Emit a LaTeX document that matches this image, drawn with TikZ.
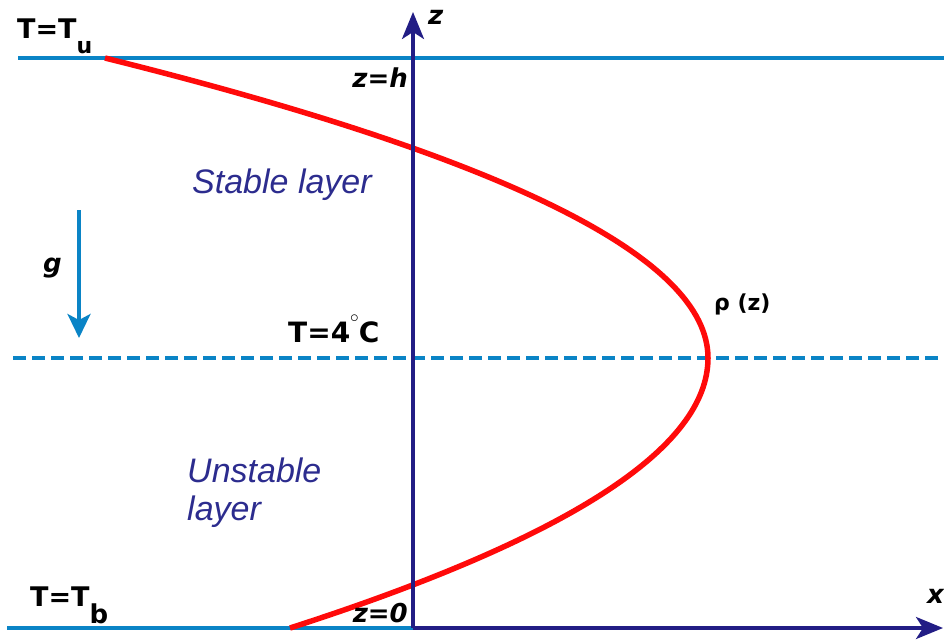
\documentclass[tikz,border=0pt]{standalone}
\usepackage{fontspec}
\setmainfont{DejaVu Sans}
\newfontfamily\layerfont{Liberation Sans}
\usetikzlibrary{arrows.meta}
\definecolor{waterblue}{HTML}{0A84C6}
\definecolor{navy}{HTML}{221D85}
\definecolor{profilered}{HTML}{FF0A0A}
\definecolor{layerink}{HTML}{2C2C8E}
\tikzset{
  level/.style={
    draw=waterblue,
    line width=3.5pt
  },
  axisarrow/.style={
    -{Stealth[length=27pt,width=22pt,inset=7pt]},
    draw=navy,
    line width=3.5pt
  },
  gravity/.style={
    -{Stealth[length=24pt,width=23pt,inset=6pt]},
    draw=waterblue,
    line width=3.5pt
  },
  profile/.style={
    draw=profilered,
    line width=5.5pt
  },
  tlabel/.style={
    inner sep=0pt,
    font=\bfseries\fontsize{27}{30}\selectfont
  },
  zlabel/.style={
    inner sep=0pt,
    font=\bfseries\itshape\fontsize{26}{28}\selectfont
  },
  layerlabel/.style={
    inner sep=0pt,
    text=layerink,
    align=left,
    font=\layerfont\itshape\fontsize{34}{38}\selectfont
  }
}

\begin{document}
\begin{tikzpicture}[x=1pt, y=-1pt]
  \useasboundingbox (0,0) rectangle (944,642);

  % boundaries and the 4 degree level
  \draw[level] (18,58) -- (944,58);
  \draw[level] (7,628) -- (673,628);
  \draw[level, dash pattern=on 13pt off 6pt] (13,358) -- (944,358);

  % density profile
  \draw[profile] (105,58) .. controls (507,158) and (708,258) .. (708,358)
    .. controls (708,448) and (569,538) .. (290,628);

  % axes
  \coordinate (origin) at (413,628);
  \coordinate (ztip) at (413,12);
  \coordinate (xtip) at (943,628);
  \draw[axisarrow] (origin) -- (ztip);
  \draw[axisarrow] (origin) -- (xtip);

  % gravity
  \coordinate (gtop) at (79,210);
  \coordinate (gtip) at (79,338);
  \draw[gravity] (gtop) -- (gtip);

  \node[tlabel, anchor=base west] (tu) at (17,38)
    {T=T\raisebox{-16pt}{\fontsize{22}{22}\selectfont u}};
  \node[tlabel, anchor=base west] (tb) at (30,606)
    {T=T\raisebox{-17pt}{\fontsize{26}{26}\selectfont b}};
  \node[tlabel, anchor=base west, font=\bfseries\fontsize{28}{30}\selectfont] (tfour) at (288,342)
    {T=4\raisebox{20pt}{\fontsize{18}{18}\selectfont$\circ$}C};
  \node[zlabel, anchor=base east] (zh) at (408,87) {z=h};
  \node[zlabel, anchor=base east] (zzero) at (408,622) {z=0};
  \node[zlabel, anchor=base west] (zname) at (428,25) {z};
  \node[zlabel, anchor=base west] (xname) at (927,603) {x};
  \node[zlabel, anchor=base west] (g) at (43,272) {g};
  \node[tlabel, anchor=base west, font=\bfseries\fontsize{22}{24}\selectfont] (rho) at (714,310)
    {ρ (z)};

  \node[layerlabel, anchor=base west] (stable) at (192,193) {Stable layer};
  \node[layerlabel, anchor=north west] (unstable) at (187,458) {Unstable\\layer};
\end{tikzpicture}
\end{document}
